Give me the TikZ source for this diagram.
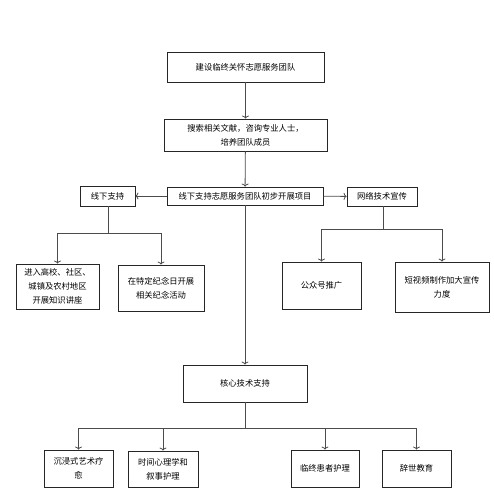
\documentclass[tikz,border=0pt]{standalone}
\usepackage{fontspec}
\newfontfamily\cjk{Noto Sans CJK SC}
\usetikzlibrary{arrows.meta}

\tikzset{
  box/.style={draw=black!85, line width=0.8pt, fill=white, inner sep=1pt,
              align=center, font=\cjk\fontsize{8.3}{14}\selectfont},
  link/.style={draw=black!70, line width=0.8pt, -{To[length=3pt,width=7pt]}},
}

\begin{document}
\begin{tikzpicture}[x=1pt,y=-1pt]
\useasboundingbox (0,0) rectangle (494,503);

% main chain
\node[box, minimum width=157, minimum height=30] (build) at (245.5,67) {建设临终关怀志愿服务团队};
\node[box, minimum width=163, minimum height=32] (search) at (245.5,135) {搜索相关文献，咨询专业人士，\\培养团队成员};
\node[box, minimum width=156, minimum height=18] (start) at (245,196) {线下支持志愿服务团队初步开展项目};

% two sides
\node[box, minimum width=55, minimum height=20] (offline) at (107.5,196) {线下支持};
\node[box, minimum width=70, minimum height=19] (online) at (382,196.5) {网络技术宣传};

\node[box, minimum width=83, minimum height=45] (lecture) at (57.5,286.5) {进入高校、社区、\\城镇及农村地区\\开展知识讲座};
\node[box, minimum width=86, minimum height=46] (memorial) at (161,288) {在特定纪念日开展\\相关纪念活动};
\node[box, minimum width=79, minimum height=47] (wechat) at (321.5,285.5) {公众号推广};
\node[box, minimum width=94, minimum height=50] (video) at (442,287) {短视频制作加大宣传\\力度};

% core
\node[box, minimum width=124, minimum height=37] (core) at (245,383.5) {核心技术支持};

\node[box, minimum width=69, minimum height=37] (art) at (78.5,468.5) {沉浸式艺术疗\\愈};
\node[box, minimum width=70, minimum height=36] (psych) at (163,469) {时间心理学和\\叙事护理};
\node[box, minimum width=68, minimum height=37] (care) at (325,468.5) {临终患者护理};
\node[box, minimum width=69, minimum height=37] (death) at (416.5,468.5) {辞世教育};

% split points
\coordinate (offsplit) at (108,233);
\coordinate (onsplit) at (383,229);
\coordinate (coresplit) at (245,428);

\draw[link] (build) -- (search);
\draw[link] (search) -- (start);
\draw[link] (start) -- (offline);
\draw[link] (start) -- (online);
\draw[link] (start) -- (core);

\draw[link] (offline.south -| offsplit) -- (offsplit) -| (lecture.north);
\draw[link] (offsplit) -| (memorial.north);
\draw[link] (online.south -| onsplit) -- (onsplit) -| (wechat.north);
\draw[link] (onsplit) -| (video.north);

\draw[link] (core) -- (coresplit) -| (art.north);
\draw[link] (coresplit) -| (psych.north);
\draw[link] (coresplit) -| (care.north);
\draw[link] (coresplit) -| (death.north);
\end{tikzpicture}
\end{document}
